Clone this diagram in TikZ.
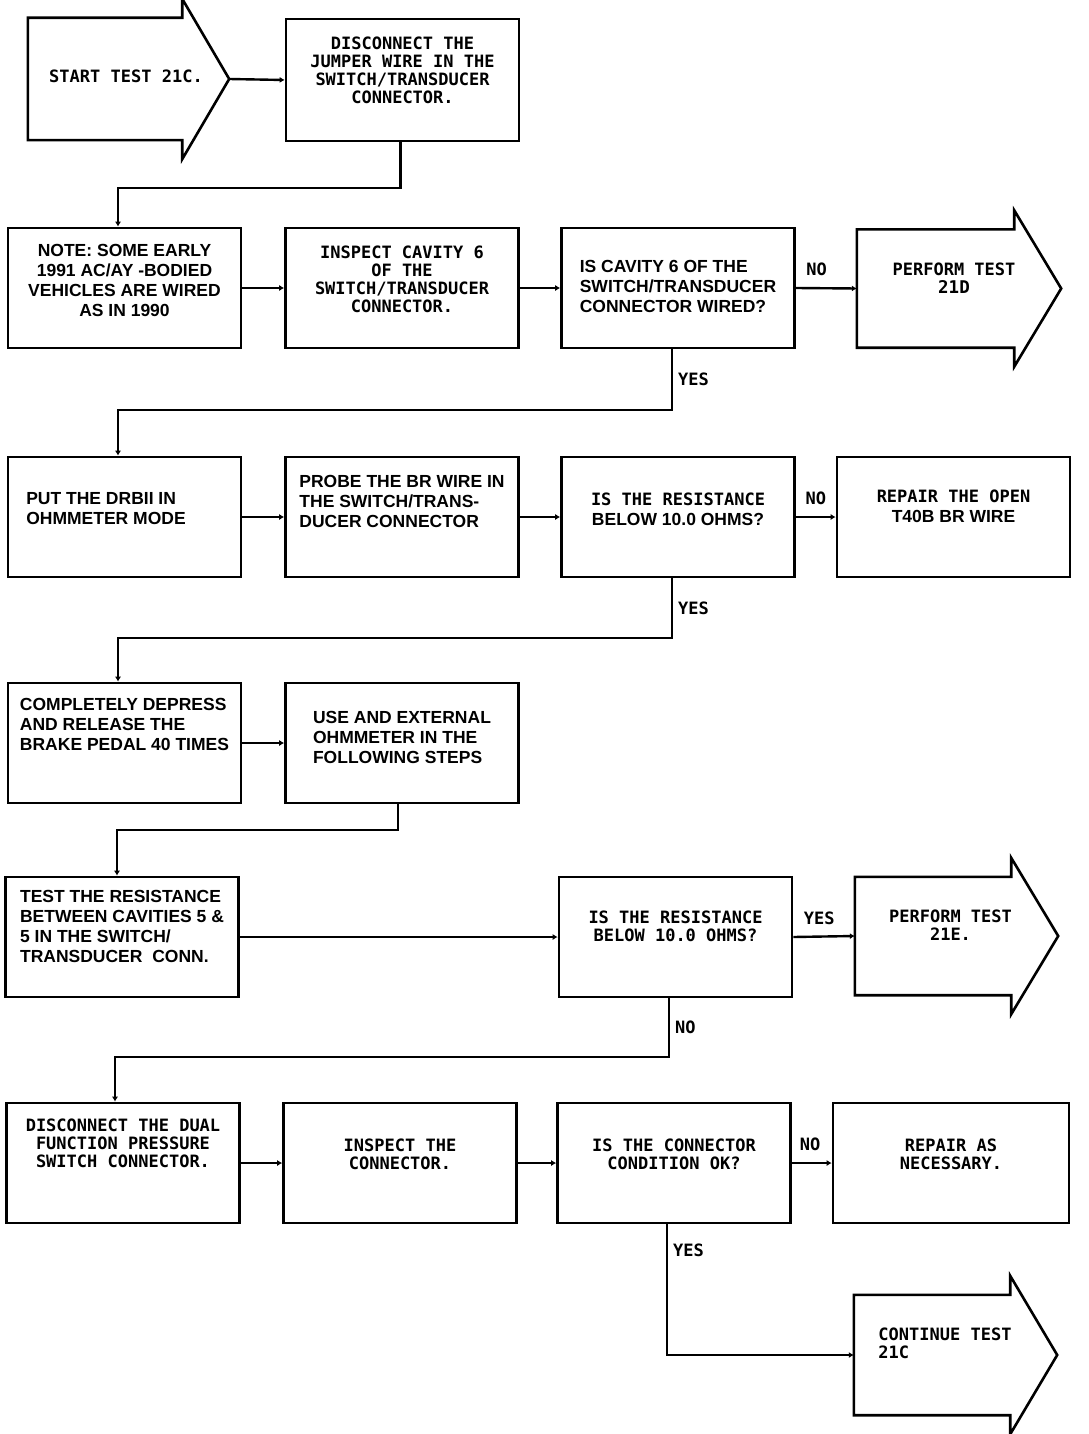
\documentclass[tikz,border=0pt]{standalone}
\usepackage{fontspec}
\setmainfont{Liberation Sans}
\newfontfamily\plotfont{DejaVu Sans Mono}
\usetikzlibrary{arrows.meta,calc}
\tikzset{>=latex}

\newcommand\sansText{\bfseries\fontsize{17.5}{20}\selectfont}
\newcommand\plotText{\plotfont\bfseries\fontsize{17}{18}\selectfont}

\tikzset{
    stepbox/.style={draw,line width=2.6pt,minimum width=233pt,minimum height=120pt,inner sep=0pt,align=center,font=\sansText},
    testarrow/.style={minimum width=203pt,minimum height=118pt,inner sep=0pt,align=center,font=\plotText},
    flow/.style={line width=2.4pt,-{Latex[length=5pt,width=6pt]}},
    answer/.style={font=\plotText,inner sep=1pt},
}

\begin{document}
\begin{tikzpicture}[x=1pt,y=-1pt]

    \useasboundingbox (0,0) rectangle (1088,1434);

    \def\xColA{124.5}
    \def\xColB{402}
    \def\xColC{678}
    \def\xColD{953.5}
    \def\xArrow{957}
    \def\yRowOne{80}
    \def\yRowTwo{288}
    \def\yRowThree{517}
    \def\yRowFour{743}
    \def\yRowFive{937}
    \def\yRowSix{1163}
    \def\yRowSeven{1355}

    \def\headLen{47}
    \def\headExt{19}

    % row one
    \node
        [testarrow,minimum width=201pt,minimum height=122pt]
        at (128.5,79)
        (start) {\begin{tabular}{@{}c@{\hspace{5pt}}}START TEST 21C.\end{tabular}};
    \node
        [stepbox,font=\plotText,minimum height=122pt]
        at (402.5,\yRowOne)
        (discJumper) {\begin{tabular}{@{}c@{}}DISCONNECT THE\\JUMPER WIRE IN THE\\SWITCH/TRANSDUCER\\CONNECTOR.\\[15pt]\end{tabular}};

    % row two
    \node
        [stepbox]
        at (\xColA,\yRowTwo)
        (note) {\begin{tabular}{@{}c@{}}NOTE: SOME EARLY\\1991 AC/AY -BODIED\\VEHICLES ARE WIRED\\AS IN 1990\\[11pt]\end{tabular}};
    \node
        [stepbox,font=\plotText]
        at (\xColB,\yRowTwo)
        (inspCav) {\begin{tabular}{@{}c@{}}INSPECT CAVITY 6\\OF THE\\SWITCH/TRANSDUCER\\CONNECTOR.\\[13pt]\end{tabular}};
    \node
        [stepbox]
        at (\xColC,\yRowTwo)
        (cavQ) {\begin{tabular}{@{}l@{}}IS CAVITY 6 OF THE\\SWITCH/TRANSDUCER\\CONNECTOR WIRED?\end{tabular}};
    \node
        [testarrow,minimum width=204pt]
        at (959,288.5)
        (testD) {\begin{tabular}{@{}c@{\hspace{10pt}}}PERFORM TEST\\{\sansText 21D}\\[15pt]\end{tabular}};

    % row three
    \node
        [stepbox]
        at (\xColA,\yRowThree)
        (drb) {\begin{tabular}{@{}l@{\hspace{37pt}}}PUT THE DRBII IN\\OHMMETER MODE\\[13pt]\end{tabular}};
    \node
        [stepbox]
        at (\xColB,\yRowThree)
        (probe) {\begin{tabular}{@{}l@{}}PROBE THE BR WIRE IN\\THE SWITCH/TRANS-\\DUCER CONNECTOR\\[27pt]\end{tabular}};
    \node
        [stepbox]
        at (\xColC,\yRowThree)
        (resQ) {\begin{tabular}{@{}c@{}}{\plotText IS THE RESISTANCE}\\BELOW 10.0 OHMS?\\[11pt]\end{tabular}};
    \node
        [stepbox]
        at (\xColD,\yRowThree)
        (repairOpen) {\begin{tabular}{@{}c@{}}{\plotText REPAIR THE OPEN}\\T40B BR WIRE\\[17pt]\end{tabular}};

    % row four
    \node
        [stepbox]
        at (\xColA,\yRowFour)
        (depress) {\begin{tabular}{@{}l@{}}COMPLETELY DEPRESS\\AND RELEASE THE\\BRAKE PEDAL 40 TIMES\\[33pt]\end{tabular}};
    \node
        [stepbox]
        at (\xColB,\yRowFour)
        (useOhm) {\begin{tabular}{@{}l@{}}USE AND EXTERNAL\\OHMMETER IN THE\\FOLLOWING STEPS\\[7pt]\end{tabular}};

    % row five
    \node
        [stepbox]
        at (122,\yRowFive)
        (testRes) {\begin{tabular}{@{}l@{}}TEST THE RESISTANCE\\BETWEEN CAVITIES 5 \&\\5 IN THE SWITCH/\\TRANSDUCER~ CONN.\\[17pt]\end{tabular}};
    \node
        [stepbox,font=\plotText]
        at (675.5,\yRowFive)
        (resQTwo) {\begin{tabular}{@{}c@{}}IS THE RESISTANCE\\BELOW 10.0 OHMS?\\[17pt]\end{tabular}};
    \node
        [testarrow]
        at (956.5,936)
        (testE) {\begin{tabular}{@{}c@{\hspace{12pt}}}PERFORM TEST\\21E.\\[17pt]\end{tabular}};

    % row six
    \node
        [stepbox,font=\plotText]
        at (123,\yRowSix)
        (dual) {\begin{tabular}{@{}c@{}}DISCONNECT THE DUAL\\FUNCTION PRESSURE\\SWITCH CONNECTOR.\\[35pt]\end{tabular}};
    \node
        [stepbox,font=\plotText]
        at (400,\yRowSix)
        (inspConn) {\begin{tabular}{@{}c@{}}INSPECT THE\\CONNECTOR.\\[13pt]\end{tabular}};
    \node
        [stepbox,font=\plotText]
        at (674,\yRowSix)
        (connQ) {\begin{tabular}{@{}c@{}}IS THE CONNECTOR\\CONDITION OK?\\[13pt]\end{tabular}};
    \node
        [stepbox,font=\plotText,minimum width=236pt]
        at (951,\yRowSix)
        (repairAs) {\begin{tabular}{@{}c@{}}REPAIR AS\\NECESSARY.\\[13pt]\end{tabular}};

    % row seven
    \node
        [testarrow,minimum height=120pt]
        at (955.5,\yRowSeven)
        (contTest) {\begin{tabular}{@{}l@{\hspace{21pt}}}CONTINUE TEST\\21C\\[19pt]\end{tabular}};

    % arrow outlines
    \foreach \n in {start,testD,testE,contTest}
        \draw[line width=2.6pt]
            (\n.north west) -- ($(\n.north east)+(-\headLen,0)$) -- ++(0,-\headExt) -- (\n.east)
            -- ($(\n.south east)+(-\headLen,\headExt)$) -- ++(0,-\headExt) -- (\n.south west) -- cycle;

    % bends
    \coordinate (bendA) at (118,188);
    \coordinate (yesB) at (672,410);
    \coordinate (dropB) at (118,410);
    \coordinate (yesC) at (672,638);
    \coordinate (dropC) at (118,638);
    \coordinate (bendD) at (117,830);
    \coordinate (noE) at (669,1057);
    \coordinate (dropE) at (115,1057);
    \coordinate (yesF) at (667,1355);

    \draw[flow] (start.east) -- (discJumper.west);
    \draw[flow] ([xshift=-2pt]discJumper.south) |- (bendA) -- (bendA |- note.north);

    \draw[flow] (note.east) -- (inspCav.west);
    \draw[flow] (inspCav.east) -- (cavQ.west);
    \draw[flow] (cavQ.east) -- node[answer,pos=0.34,above=10pt] (lblNoD) {NO} (testD.west);
    \draw[flow] (cavQ.south -| yesB) -- node[answer,midway,right=4pt] (lblYesB) {YES} (yesB) -- (dropB) -- (dropB |- drb.north);

    \draw[flow] (drb.east) -- (probe.west);
    \draw[flow] (probe.east) -- (resQ.west);
    \draw[flow] (resQ.east) -- node[answer,midway,above=10pt] (lblNoC) {NO} (repairOpen.west);
    \draw[flow] (resQ.south -| yesC) -- node[answer,midway,right=4pt] (lblYesC) {YES} (yesC) -- (dropC) -- (dropC |- depress.north);

    \draw[flow] (depress.east) -- (useOhm.west);
    \draw[flow] ([xshift=-4pt]useOhm.south) |- (bendD) -- (bendD |- testRes.north);

    \draw[flow] (testRes.east) -- (resQTwo.west);
    \draw[flow] (resQTwo.east) -- node[answer,pos=0.42,above=10pt] (lblYesE) {YES} (testE.west);
    \draw[flow] (resQTwo.south -| noE) -- node[answer,midway,right=4pt] (lblNoE) {NO} (noE) -- (dropE) -- (dropE |- dual.north);

    \draw[flow] (dual.east) -- (inspConn.west);
    \draw[flow] (inspConn.east) -- (connQ.west);
    \draw[flow] (connQ.east) -- node[answer,pos=0.46,above=10pt] (lblNoF) {NO} (repairAs.west);
    \draw[flow] (connQ.south -| yesF) -- node[answer,pos=0.2,right=4pt] (lblYesF) {YES} (yesF) -- (contTest.west);

\end{tikzpicture}
\end{document}
